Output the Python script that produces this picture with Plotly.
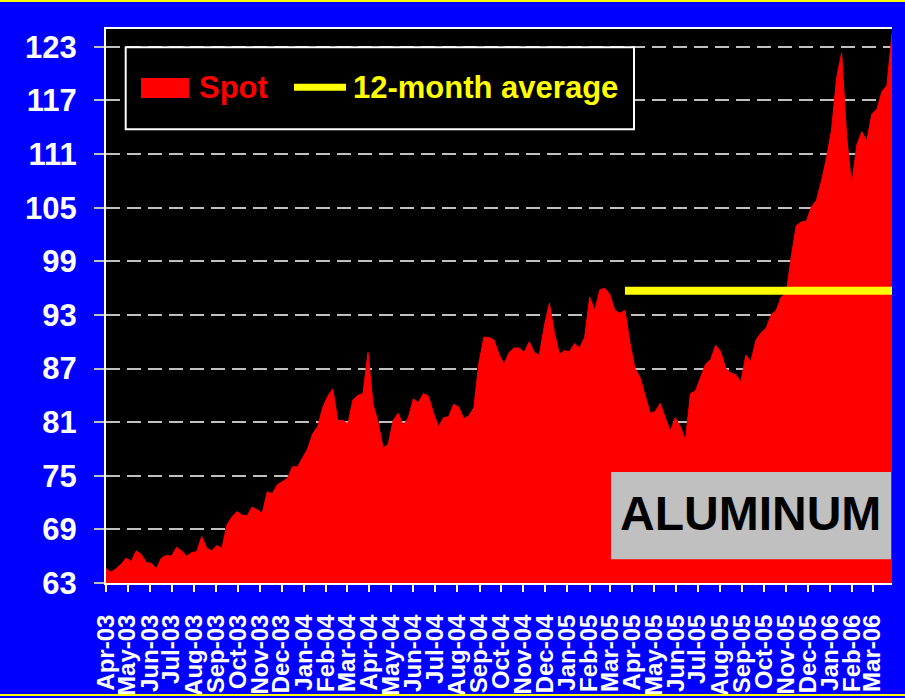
import pandas as pd
import plotly.graph_objects as go

# Weekly spot price readings (index, 63..125 scale), Apr-2003 .. Mar-2006
week_start = "2003-04-01"
spot_values = [
    64.6, 64.2, 64.6, 65.1, 65.8, 65.4, 66.6, 66.2, 65.3, 65.2,
    64.6, 65.8, 66.1, 66.0, 67.0, 66.6, 66.0, 66.4, 66.5, 68.2,
    66.9, 66.6, 67.2, 66.9, 69.5, 70.4, 71.0, 70.6, 70.5, 71.5,
    71.2, 70.8, 73.2, 73.0, 74.0, 74.4, 74.7, 76.0, 76.0, 77.0,
    78.0, 79.7, 80.5, 82.6, 83.9, 84.7, 81.2, 81.2, 80.8, 83.5,
    84.0, 84.2, 88.8, 83.0, 81.0, 78.1, 78.5, 81.2, 82.0, 80.6,
    81.5, 83.6, 83.2, 84.2, 83.9, 82.0, 80.5, 81.5, 81.6, 83.0,
    82.7, 81.4, 81.7, 82.6, 87.6, 90.5, 90.5, 90.2, 88.6, 87.5,
    88.8, 89.3, 89.3, 88.8, 90.0, 88.8, 88.5, 91.8, 94.3, 91.0,
    88.6, 89.0, 88.9, 89.8, 89.3, 90.5, 95.0, 93.5, 95.8, 96.0,
    95.3, 93.5, 93.2, 93.5, 89.8, 87.0, 86.0, 84.0, 82.0, 82.2,
    83.1, 81.5, 80.0, 81.5, 80.5, 79.0, 84.2, 84.5, 86.0, 87.5,
    88.0, 89.6, 88.9, 87.0, 86.5, 86.3, 85.5, 88.5, 87.8, 90.2,
    91.0, 91.5, 93.0, 93.5, 95.0, 95.4, 99.5, 103.0, 103.4, 103.5,
    105.1, 105.8, 108.0, 110.6, 113.7, 119.5, 122.3, 113.0, 107.5, 112.0,
    113.5, 112.5, 115.5, 116.0, 118.0, 118.7, 124.5,
]
spot_dates = pd.date_range(week_start, periods=len(spot_values), freq="7D")

avg_dates = ["2005-03-22", str(spot_dates[-1].date())]
avg_values = [95.7, 95.7]

y_ticks = [63, 69, 75, 81, 87, 93, 99, 105, 111, 117, 123]
y_range = [63, 125]

series_names = ["Spot", "12-month average"]
chart_label = "ALUMINUM"

FONT = "Liberation Sans, Arial, sans-serif"

fig = go.Figure()
fig.add_trace(go.Scatter(
    x=spot_dates, y=spot_values, name=series_names[0], mode="lines",
    line=dict(color="#FF0000", width=1), fill="tozeroy", fillcolor="#FF0000",
    showlegend=False,
))
fig.add_trace(go.Scatter(
    x=avg_dates, y=avg_values, name=series_names[1], mode="lines",
    line=dict(color="#FFFF00", width=8), showlegend=False,
))

L, R, T, B = 106, 13, 29, 115
W, H = 905, 698
PW, PH = W - L - R, H - T - B


def px(xp):
    return (xp - L) / PW


def py(yp):
    return (H - B - yp) / PH


shapes = [
    # legend frame
    dict(type="rect", xref="paper", yref="paper", x0=px(125.7), x1=px(634),
         y0=py(129.3), y1=py(47.3), fillcolor="#000000",
         line=dict(color="#FFFFFF", width=2), layer="above"),
    dict(type="rect", xref="paper", yref="paper", x0=px(141), x1=px(189),
         y0=py(98), y1=py(78), fillcolor="#FF0000", line=dict(width=0), layer="above"),
    dict(type="line", xref="paper", yref="paper", x0=px(294), x1=px(346),
         y0=py(87.3), y1=py(87.3), line=dict(color="#FFFF00", width=7), layer="above"),
    # label box
    dict(type="rect", xref="paper", yref="paper", x0=px(611), x1=px(891),
         y0=py(559.3), y1=py(472), fillcolor="#C0C0C0", line=dict(width=0), layer="above"),
    # outer yellow rules
    dict(type="line", xref="paper", yref="paper", x0=px(0), x1=px(905),
         y0=py(1), y1=py(1), line=dict(color="#FFFF00", width=2)),
    dict(type="line", xref="paper", yref="paper", x0=px(0), x1=px(905),
         y0=py(695), y1=py(695), line=dict(color="#FFFF00", width=2)),
]

annotations = [
    dict(text=series_names[0], xref="paper", yref="paper", x=px(197), y=py(88),
         xanchor="left", yanchor="middle", showarrow=False,
         font=dict(family=FONT, size=31, color="#FF0000", weight="bold")),
    dict(text=series_names[1], xref="paper", yref="paper", x=px(351), y=py(88),
         xanchor="left", yanchor="middle", showarrow=False,
         font=dict(family=FONT, size=31, color="#FFFF00", weight="bold")),
    dict(text=chart_label, xref="paper", yref="paper", x=px(750), y=py(513),
         xanchor="center", yanchor="middle", showarrow=False,
         font=dict(family=FONT, size=48, color="#000000", weight="bold")),
]

fig.update_layout(
    width=W, height=H,
    margin=dict(l=L, r=R, t=T, b=B, pad=0, autoexpand=False),
    paper_bgcolor="#0000FF", plot_bgcolor="#000000",
    showlegend=False,
    shapes=shapes, annotations=annotations,
    font=dict(family=FONT, color="#FFFFFF"),
)
fig.update_xaxes(
    type="date", range=[spot_dates[0], spot_dates[-1]], automargin=False,
    tick0=week_start, dtick="M1", tickformat="%b-%y", tickangle=-90,
    ticks="outside", ticklen=7, tickwidth=2, tickcolor="#FFFFFF",
    showline=True, linecolor="#FFFFFF", linewidth=2, mirror=True,
    showgrid=False, zeroline=False, ticklabelstandoff=13,
    tickfont=dict(family=FONT, size=24, color="#FFFFFF", weight="bold"),
)
fig.update_yaxes(
    range=y_range, tickvals=y_ticks, automargin=False,
    ticks="outside", ticklen=10, tickwidth=2, tickcolor="#C0C0C0",
    showline=True, linecolor="#FFFFFF", linewidth=2,
    showgrid=True, gridcolor="#C0C0C0", gridwidth=2, griddash="14px,7px",
    zeroline=False, ticklabelstandoff=11,
    tickfont=dict(family=FONT, size=31, color="#FFFFFF", weight="bold"),
)

fig.write_html(
    "out.html",
    config={"displayModeBar": False},
    post_script=["document.body.style.margin='0px';"
                 "document.body.style.overflow='hidden';"],
)
